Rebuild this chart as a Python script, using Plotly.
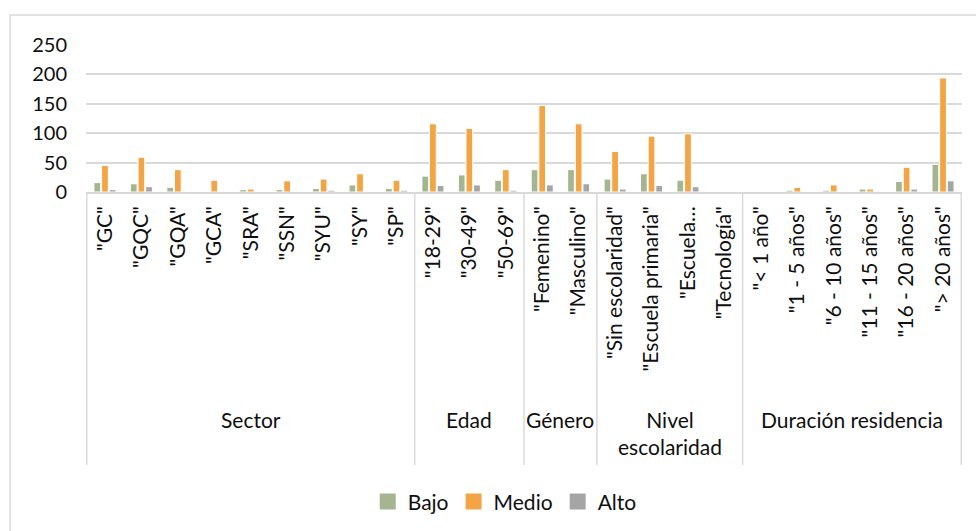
import plotly.graph_objects as go

categories = ['"GC"', '"GQC"', '"GQA"', '"GCA"', '"SRA"', '"SSN"', '"SYU"', '"SY"', '"SP"',
              '"18-29"', '"30-49"', '"50-69"',
              '"Femenino"', '"Masculino"',
              '"Sin escolaridad"', '"Escuela primaria"', '"Escuela…', '"Tecnología"',
              '"< 1 año"', '"1 - 5 años"', '"6 - 10 años"', '"11 - 15 años"', '"16 - 20 años"', '"> 20 años"']
bajo = [16, 14, 8, 0, 4, 4, 6, 12, 6, 27, 29, 20, 38, 38, 22, 31, 20, 0, 1, 3, 3, 5, 18, 47]
medio = [45, 59, 38, 20, 5, 19, 22, 31, 20, 116, 108, 38, 147, 116, 69, 95, 99, 0, 0, 8, 12, 5, 42, 194]
alto = [4, 9, 1, 1, 0, 1, 3, 1, 3, 11, 12, 3, 12, 14, 5, 11, 9, 0, 0, 0, 1, 0, 5, 19]
groups = ["Sector", "Edad", "Género", "Nivel<br>escolaridad", "Duración residencia"]
group_sizes = [9, 3, 2, 4, 6]
y_ticks = [0, 50, 100, 150, 200, 250]

series = [("Bajo", bajo, "#A5B592"), ("Medio", medio, "#F3A545"), ("Alto", alto, "#A5A5A5")]

FONT = "Lato"
TXT = "#0F0F0F"
GRID = "#D9D9D9"

W, H = 976, 531
L, R, T, B = 86, 14, 45, 339
ph = H - T - B
pw = W - L - R

def py(px):  # pixel y -> paper y
    return (H - B - px) / ph

def pxx(px):
    return (px - L) / pw

fig = go.Figure()
for name, vals, col in series:
    fig.add_trace(go.Bar(x=categories, y=vals, name=name, marker_color=col,
                         marker_line_color="white", marker_line_width=1, showlegend=False))
# legend entries with larger square swatches
for name, vals, col in series:
    fig.add_trace(go.Scatter(x=[None], y=[None], mode="markers", name=name,
                             marker=dict(symbol="square", size=16, color=col)))

shapes = []
annotations = []
start = 0
bounds = [-0.5]
for g, n in zip(groups, group_sizes):
    center = start + (n - 1) / 2
    annotations.append(dict(x=center, xref="x", y=py(405), yref="paper", text=g,
                            showarrow=False, yanchor="top", xanchor="center",
                            font=dict(family=FONT, size=21, color=TXT)))
    start += n
    bounds.append(start - 0.5)
for b in bounds:
    shapes.append(dict(type="line", xref="x", yref="paper", x0=b, x1=b, y0=0, y1=py(465),
                       line=dict(color=GRID, width=1.5)))
# chart frame
shapes.append(dict(type="rect", xref="paper", yref="paper", x0=pxx(10), x1=pxx(990),
                   y0=py(545), y1=py(15), line=dict(color=GRID, width=1.5), layer="below"))

fig.update_layout(
    width=W, height=H,
    margin=dict(l=L, r=R, t=T, b=B, autoexpand=False),
    paper_bgcolor="white", plot_bgcolor="white",
    barmode="group", bargap=0.37, bargroupgap=0.12,
    font=dict(family=FONT, size=21, color=TXT),
    showlegend=True,
    legend=dict(orientation="h", yref="container", y=0.055, yanchor="middle",
                x=0.478, xanchor="center", font=dict(family=FONT, size=21, color=TXT),
                traceorder="normal", itemwidth=30),
    shapes=shapes, annotations=annotations,
)
fig.update_xaxes(type="category", tickangle=-90, showgrid=False, showline=True,
                 linecolor=GRID, linewidth=1.5, ticks="", ticklabelstandoff=4,
                 automargin=False, tickfont=dict(family=FONT, size=21, color=TXT))
fig.update_yaxes(range=[0, 250], tickvals=y_ticks, showgrid=True, gridcolor=GRID,
                 gridwidth=1.5, zeroline=False, showline=False, ticks="",
                 ticklabelstandoff=18, automargin=False,
                 tickfont=dict(family=FONT, size=20, color=TXT))

fig.write_html("out.html", config={"displayModeBar": False},
               post_script="document.body.style.margin='0';document.body.style.overflow='hidden';")
